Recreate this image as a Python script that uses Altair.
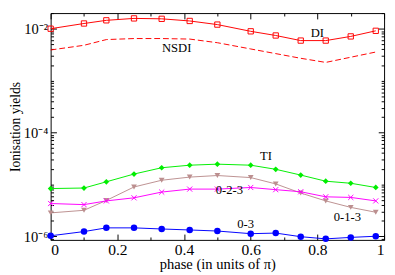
import altair as alt
import pandas as pd

# ---- data ----
phase = [0, 0.1, 0.167, 0.25, 0.333, 0.417, 0.5, 0.6, 0.675, 0.75, 0.825, 0.9, 0.975]
di = [0.0100, 0.0126, 0.0145, 0.0158, 0.0155, 0.0141, 0.0120, 0.0089, 0.0074, 0.0059, 0.0059, 0.0071, 0.0091]
nsdi = [0.00389, 0.00479, 0.00617, 0.00646, 0.00646, 0.00631, 0.00537, 0.00407, 0.00331, 0.00269, 0.00224, 0.00282, 0.00355]
ti = [8.3e-6, 8.5e-6, 1.12e-5, 1.58e-5, 2.09e-5, 2.34e-5, 2.45e-5, 2.34e-5, 1.95e-5, 1.51e-5, 1.15e-5, 1.05e-5, 8.7e-6]
s013 = [2.82e-6, 3.16e-6, 4.9e-6, 8.9e-6, 1.20e-5, 1.38e-5, 1.48e-5, 1.35e-5, 1.02e-5, 6.8e-6, 4.8e-6, 3.6e-6, 2.9e-6]
s023 = [4.27e-6, 4.07e-6, 4.8e-6, 5.5e-6, 7.1e-6, 8.1e-6, 8.1e-6, 8.7e-6, 7.9e-6, 7.2e-6, 5.75e-6, 5.6e-6, 4.8e-6]
s03 = [1.02e-6, 1.23e-6, 1.45e-6, 1.45e-6, 1.38e-6, 1.32e-6, 1.26e-6, 1.12e-6, 1.15e-6, 9.8e-7, 8.9e-7, 9.5e-7, 1.0e-6]

label_text = ["DI", "NSDI", "TI", "0-2-3", "0-1-3", "0-3"]
label_x = [0.80, 0.378, 0.646, 0.536, 0.89, 0.585]
label_y = [8.2e-3, 4.2e-3, 3.5e-5, 7.8e-6, 2.3e-6, 1.75e-6]

x_major = [0, 0.2, 0.4, 0.6, 0.8, 1.0]
x_all = [0, 0.1, 0.2, 0.3, 0.4, 0.5, 0.6, 0.7, 0.8, 0.9, 1.0]
y_label_vals = [1e-6, 1e-4, 1e-2]
y_label_text = ["10⁻⁶", "10⁻⁴", "10⁻²"]
y_all = [k * d for d in [1e-7, 1e-6, 1e-5, 1e-4, 1e-3, 1e-2] for k in range(1, 10)
         if 8.5e-7 <= k * d <= 2e-2]

W, H = 344, 234
FONT = "Liberation Serif"

xs = alt.Scale(domain=[0, 1], nice=False, zero=False)
ys = alt.Scale(type="log", domain=[8.5e-7, 2e-2], nice=False)

x_tick_size = {"condition": {"test": "abs(datum.value*5 - round(datum.value*5)) < 0.001", "value": 6}, "value": 3}
y_tick_size = {"condition": {"test": "datum.value == 1e-6 || datum.value == 1e-4 || datum.value == 1e-2", "value": 6}, "value": 3}

y_label_expr = (f"datum.value > 5e-3 ? '{y_label_text[2]}' : "
                f"(datum.value > 5e-5 ? '{y_label_text[1]}' : '{y_label_text[0]}')")

ax_x_labels = alt.Axis(orient="bottom", values=x_major, format="~g", ticks=False, tickSize=0,
                       domain=False, grid=False, labelFont=FONT, labelFontSize=16, labelColor="black",
                       labelPadding=2, title="phase (in units of π)", titleFont=FONT, titleFontSize=15,
                       titleFontWeight="normal", titleColor="black", titlePadding=0)
ax_y_labels = alt.Axis(orient="left", values=y_label_vals, labelExpr=y_label_expr, ticks=False, tickSize=0,
                       domain=False, grid=False, labelFont=FONT, labelFontSize=15, labelColor="black",
                       labelPadding=3, title="Ionisation yields", titleFont=FONT, titleFontSize=14,
                       titleFontWeight="normal", titleColor="black", titlePadding=1)


def tick_axis(orient, vals, size_rule, dim):
    return alt.Axis(orient=orient, offset=-dim, values=vals, labels=False, domain=False, grid=False,
                    tickSize=size_rule, tickColor="black", tickWidth=1, title=None)


ax_x_bottom_in = tick_axis("top", x_all, x_tick_size, H)
ax_x_top_in = tick_axis("bottom", x_all, x_tick_size, H)
ax_y_left_in = tick_axis("right", y_all, y_tick_size, W)
ax_y_right_in = tick_axis("left", y_all, y_tick_size, W)


def series(values, color, xaxis=None, yaxis=None, point=None, dash=None):
    df = pd.DataFrame({"phase": phase, "yield": values})
    mk = dict(color=color, strokeWidth=1)
    if dash:
        mk["strokeDash"] = dash
    if point is not None:
        mk["point"] = point
    return alt.Chart(df).mark_line(**mk).encode(
        x=alt.X("phase:Q", scale=xs, axis=xaxis),
        y=alt.Y("yield:Q", scale=ys, axis=yaxis),
    )


l_di = series(di, "#ff0000", ax_x_labels, ax_y_labels,
              point=alt.OverlayMarkDef(shape="square", filled=False, size=30, color="#ff0000", strokeWidth=1))
l_nsdi = series(nsdi, "#ff0000", ax_x_bottom_in, ax_y_left_in, dash=[6, 3])
l_ti = series(ti, "#00ee00", ax_x_top_in, ax_y_right_in,
              point=alt.OverlayMarkDef(shape="diamond", filled=True, size=35, color="#00ee00"))
l_013 = series(s013, "#bc8f8f",
               point=alt.OverlayMarkDef(shape="triangle-down", filled=True, size=35, color="#bc8f8f"))
l_023 = series(s023, "#ff00ff",
               point=alt.OverlayMarkDef(shape="M-1,-1L1,1M-1,1L1,-1", filled=False, size=28,
                                        color="#ff00ff", strokeWidth=1))
l_03 = series(s03, "#0000ff",
              point=alt.OverlayMarkDef(shape="circle", filled=True, size=45, color="#0000ff"))

labels_df = pd.DataFrame({"x": label_x, "y": label_y, "t": label_text})
l_text = alt.Chart(labels_df).mark_text(font=FONT, fontSize=13, color="black").encode(
    x=alt.X("x:Q", scale=xs, axis=None),
    y=alt.Y("y:Q", scale=ys, axis=None),
    text="t:N",
)

chart = alt.layer(l_nsdi, l_ti, l_013, l_023, l_03, l_di, l_text).resolve_scale(
    x="independent", y="independent"
).resolve_axis(
    x="independent", y="independent"
).properties(
    width=W, height=H, background="white",
    padding={"left": 0, "top": 0, "right": 2, "bottom": 0}
).configure_view(
    stroke="black", strokeWidth=1
)

chart.save("out.html", embed_options={"renderer": "svg", "actions": False})
